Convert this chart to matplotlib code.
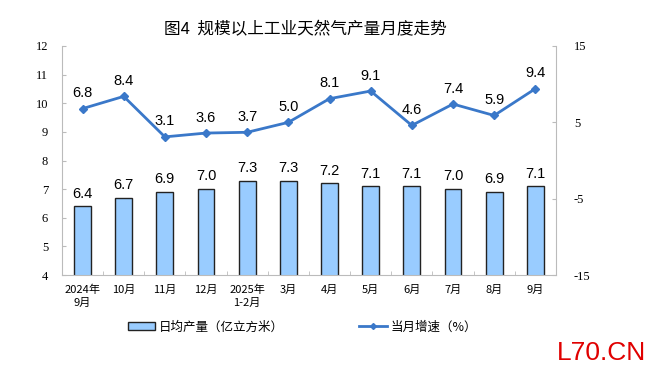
import numpy as np
import matplotlib.pyplot as plt
from matplotlib.lines import Line2D
from matplotlib.patches import Patch

plt.rcParams['font.family'] = ['Liberation Serif', 'Noto Sans CJK SC']
plt.rcParams['axes.unicode_minus'] = False

months = ["2024年\n9月", "10月", "11月", "12月", "2025年\n1-2月", "3月",
          "4月", "5月", "6月", "7月", "8月", "9月"]
daily_output = [6.4, 6.7, 6.9, 7.0, 7.3, 7.3, 7.2, 7.1, 7.1, 7.0, 6.9, 7.1]
growth = [6.8, 8.4, 3.1, 3.6, 3.7, 5.0, 8.1, 9.1, 4.6, 7.4, 5.9, 9.4]

fig = plt.figure(figsize=(6.49, 3.80), dpi=100)
ax = fig.add_axes([0.0955, 0.276, 0.761, 0.603])
ax2 = ax.twinx()

x = np.arange(len(months))
ax.bar(x, daily_output, width=0.41, color='#99ccff', edgecolor='#222222', linewidth=1.0, zorder=2)
for xi, v in zip(x, daily_output):
    ax.text(xi, v + 0.2, f"{v:.1f}", ha='center', va='bottom', fontsize=10.5,
            family=['Liberation Sans', 'DejaVu Sans'])

ax2.plot(x, growth, color='#3a78c9', lw=2, marker='D', markersize=4, zorder=3)
for xi, v in zip(x, growth):
    ax2.text(xi, v + 1.1, f"{v:.1f}", ha='center', va='bottom', fontsize=10.5,
             family=['Liberation Sans', 'DejaVu Sans'])

ax.set_xlim(-0.5, len(months) - 0.5)
ax.set_ylim(4, 12)
ax.set_yticks(range(4, 13))
ax2.set_ylim(-15, 15)
ax2.set_yticks([-15, -5, 5, 15])

ax.set_xticks(x)
ax.set_xticklabels(months, fontsize=8, family=['Noto Sans CJK SC'], linespacing=1.3)
ax.set_xticks(np.arange(-0.5, len(months), 1), minor=True)
ax.tick_params(axis='x', which='major', length=0, pad=7)
ax.tick_params(axis='x', which='minor', length=3, direction='in', color='#bbbbbb')
ax.tick_params(axis='y', direction='in', length=3, color='#bbbbbb', labelsize=9, pad=10)
ax2.tick_params(axis='y', direction='in', length=3, color='#bbbbbb', labelsize=9, pad=13)

for a in (ax, ax2):
    for s in a.spines.values():
        s.set_visible(False)
ax.spines['left'].set_visible(True)
ax.spines['bottom'].set_visible(True)
ax.spines['left'].set_color('#bbbbbb')
ax.spines['bottom'].set_color('#bbbbbb')
ax2.spines['right'].set_visible(True)
ax2.spines['right'].set_color('#bbbbbb')

fig.text(0.471, 0.921, "图4  规模以上工业天然气产量月度走势", ha='center', va='center',
         fontsize=12, family=['Noto Sans CJK SC'])

handles = [Patch(facecolor='#99ccff', edgecolor='#222222', linewidth=1.0),
           Line2D([0], [0], color='#3a78c9', lw=2, marker='D', markersize=3)]
leg = fig.legend(handles, ["日均产量（亿立方米）", "当月增速（%）"], loc='center',
                 bbox_to_anchor=(0.466, 0.14), ncol=2, frameon=False, columnspacing=6,
                 handlelength=2.2, handletextpad=0.3, prop={'family': 'Noto Sans CJK SC', 'size': 9})

fig.text(0.995, 0.04, "L70.CN", color='#e00000', fontsize=19, ha='right', va='bottom',
         family=['Liberation Sans'])

fig.savefig("out.png", dpi=100)
